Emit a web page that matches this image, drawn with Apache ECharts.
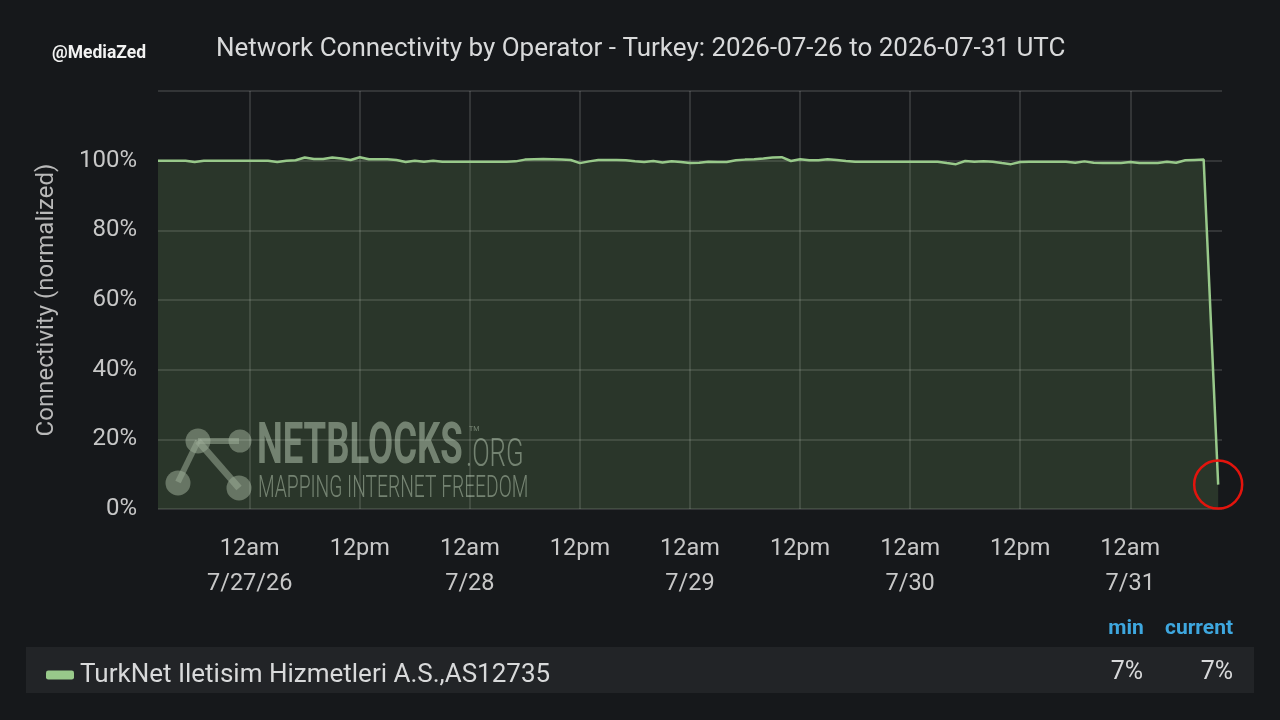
<!DOCTYPE html>
<html>
<head>
<meta charset="utf-8">
<script src="https://cdn.jsdelivr.net/npm/echarts@6/dist/echarts.min.js"></script>
<style>
html,body{margin:0;padding:0;background:#16181b;}
#chart{width:1280px;height:720px;}
</style>
</head>
<body>
<div id="chart"></div>
<script>
// ---------- data ----------
const chartTitle = 'Network Connectivity by Operator - Turkey: 2026-07-26 to 2026-07-31 UTC';
const credit = '@MediaZed';
const seriesName = 'TurkNet Iletisim Hizmetleri A.S.,AS12735';
const yAxisName = 'Connectivity (normalized)';

const axisStart = '2026-07-26 14:00';
const axisEnd = '2026-07-31 10:00';
const axisOrigin = '2026-07-27 00:00'; // first 12am tick

const times = [
  '2026-07-26 14:00','2026-07-26 15:00','2026-07-26 16:00','2026-07-26 17:00','2026-07-26 18:00',
  '2026-07-26 19:00','2026-07-26 20:00','2026-07-26 21:00','2026-07-26 22:00','2026-07-26 23:00',
  '2026-07-27 00:00','2026-07-27 01:00','2026-07-27 02:00','2026-07-27 03:00','2026-07-27 04:00','2026-07-27 05:00',
  '2026-07-27 06:00','2026-07-27 07:00','2026-07-27 08:00','2026-07-27 09:00','2026-07-27 10:00','2026-07-27 11:00',
  '2026-07-27 12:00','2026-07-27 13:00','2026-07-27 14:00','2026-07-27 15:00','2026-07-27 16:00','2026-07-27 17:00',
  '2026-07-27 18:00','2026-07-27 19:00','2026-07-27 20:00','2026-07-27 21:00','2026-07-27 22:00','2026-07-27 23:00',
  '2026-07-28 00:00','2026-07-28 01:00','2026-07-28 02:00','2026-07-28 03:00','2026-07-28 04:00','2026-07-28 05:00',
  '2026-07-28 06:00','2026-07-28 07:00','2026-07-28 08:00','2026-07-28 09:00','2026-07-28 10:00','2026-07-28 11:00',
  '2026-07-28 12:00','2026-07-28 13:00','2026-07-28 14:00','2026-07-28 15:00','2026-07-28 16:00','2026-07-28 17:00',
  '2026-07-28 18:00','2026-07-28 19:00','2026-07-28 20:00','2026-07-28 21:00','2026-07-28 22:00','2026-07-28 23:00',
  '2026-07-29 00:00','2026-07-29 01:00','2026-07-29 02:00','2026-07-29 03:00','2026-07-29 04:00','2026-07-29 05:00',
  '2026-07-29 06:00','2026-07-29 07:00','2026-07-29 08:00','2026-07-29 09:00','2026-07-29 10:00','2026-07-29 11:00',
  '2026-07-29 12:00','2026-07-29 13:00','2026-07-29 14:00','2026-07-29 15:00','2026-07-29 16:00','2026-07-29 17:00',
  '2026-07-29 18:00','2026-07-29 19:00','2026-07-29 20:00','2026-07-29 21:00','2026-07-29 22:00','2026-07-29 23:00',
  '2026-07-30 00:00','2026-07-30 01:00','2026-07-30 02:00','2026-07-30 03:00','2026-07-30 04:00','2026-07-30 05:00',
  '2026-07-30 06:00','2026-07-30 07:00','2026-07-30 08:00','2026-07-30 09:00','2026-07-30 10:00','2026-07-30 11:00',
  '2026-07-30 12:00','2026-07-30 13:00','2026-07-30 14:00','2026-07-30 15:00','2026-07-30 16:00','2026-07-30 17:00',
  '2026-07-30 18:00','2026-07-30 19:00','2026-07-30 20:00','2026-07-30 21:00','2026-07-30 22:00','2026-07-30 23:00',
  '2026-07-31 00:00','2026-07-31 01:00','2026-07-31 02:00','2026-07-31 03:00','2026-07-31 04:00','2026-07-31 05:00',
  '2026-07-31 06:00','2026-07-31 07:00','2026-07-31 08:00','2026-07-31 09:35'
];

const connectivity = [
  100, 100, 100, 100, 99.6, 100, 100, 100, 100, 100,
  100, 100, 100, 99.6, 100, 100.1, 100.9, 100.5, 100.5, 100.9, 100.6, 100.2,
  101, 100.4, 100.4, 100.4, 100.2, 99.6, 100, 99.7, 100, 99.7, 99.7, 99.7,
  99.7, 99.7, 99.7, 99.7, 99.7, 99.8, 100.3, 100.4, 100.5, 100.4, 100.3, 100.2,
  99.3, 99.8, 100.2, 100.2, 100.2, 100.1, 99.8, 99.6, 99.9, 99.5, 99.8, 99.6,
  99.3, 99.4, 99.7, 99.6, 99.6, 100.1, 100.3, 100.4, 100.6, 100.9, 101, 99.9,
  100.4, 100.1, 100.1, 100.4, 100.2, 99.9, 99.7, 99.7, 99.7, 99.7, 99.7, 99.7,
  99.7, 99.7, 99.7, 99.7, 99.3, 99.0, 99.9, 99.7, 99.8, 99.7, 99.3, 99.0,
  99.6, 99.7, 99.7, 99.7, 99.7, 99.7, 99.4, 99.8, 99.4, 99.3, 99.3, 99.3,
  99.6, 99.3, 99.3, 99.3, 99.7, 99.4, 100.1, 100.2, 100.3, 7
];

const xTickLabels = ['12am\n7/27/26','12pm','12am\n7/28','12pm','12am\n7/29','12pm','12am\n7/30','12pm','12am\n7/31'];
const yMax = 120;
const yStep = 20;

// ---------- helpers ----------
function parseUTC(s){
  const [d,t] = s.split(' ');
  const [Y,M,D] = d.split('-').map(Number);
  const [h,m] = t.split(':').map(Number);
  return Date.UTC(Y, M-1, D, h, m);
}
const HALF_DAY = 12*3600*1000;
const origin = parseUTC(axisOrigin);
const toHalfDays = s => (parseUTC(s) - origin) / HALF_DAY;

const seriesData = times.map((t,i) => [toHalfDays(t), connectivity[i]]);
const lastPoint = seriesData[seriesData.length-1];
const minVal = Math.min(...connectivity);
const curVal = connectivity[connectivity.length-1];

const textCol = '#d8d9da';
const axisCol = '#c7c7c7';
const gridCol = 'rgba(255,255,255,0.17)';
const lineCol = '#98c98a';
const wmText = 'rgba(190,198,188,0.55)';
const wmLogo = 'rgba(160,168,158,0.55)';
const FONT = 'Roboto';

const chart = echarts.init(document.getElementById('chart'), null, {renderer:'canvas'});

chart.setOption({
  backgroundColor: '#16181b',
  animation: false,
  textStyle: {fontFamily: FONT},
  title: [
    {text: chartTitle, left: 211, top: 31, textStyle:{color: textCol, fontSize: 26, fontWeight: 'normal', fontFamily: FONT}},
    {text: credit, left: 47, top: 40, textStyle:{color: '#f2f2f2', fontSize: 17.5, fontWeight: 'bold', fontFamily: FONT}}
  ],
  grid: {left: 158, right: 58, top: 91, bottom: 211, containLabel: false},
  legend: {
    left: 41, top: 657, icon: 'roundRect', itemWidth: 28, itemHeight: 9, selectedMode: false,
    data: [seriesName],
    textStyle: {color: textCol, fontSize: 26, fontFamily: FONT, padding:[0,0,0,1]}
  },
  xAxis: {
    type: 'value',
    min: toHalfDays(axisStart),
    max: toHalfDays(axisEnd),
    splitNumber: 10,
    axisLine: {show: false},
    axisTick: {show: false},
    splitLine: {show: true, showMinLine: false, showMaxLine: false, lineStyle: {color: gridCol, width: 1.5}},
    axisLabel: {
      color: axisCol, fontSize: 23.5, fontFamily: FONT, margin: 23, lineHeight: 35,
      showMinLabel: false, showMaxLabel: false,
      formatter: v => {
        const k = Math.round(v);
        if (Math.abs(v-k) > 1e-6 || k < 0 || k >= xTickLabels.length) return '';
        return xTickLabels[k];
      }
    }
  },
  yAxis: {
    type: 'value', min: 0, max: yMax, interval: yStep,
    name: yAxisName, nameLocation: 'middle', nameGap: 99, nameRotate: 90,
    nameTextStyle: {color: '#b9b9b9', fontSize: 24, fontFamily: FONT},
    axisLine: {show: false},
    axisTick: {show: false},
    splitLine: {show: true, lineStyle: {color: gridCol, width: 1.5}},
    axisLabel: {
      color: axisCol, fontSize: 24, fontFamily: FONT, margin: 21,
      formatter: v => v >= yMax ? '' : v + '%'
    }
  },
  series: [{
    name: seriesName,
    type: 'line',
    data: seriesData,
    showSymbol: false,
    symbol: 'none',
    smooth: false,
    lineStyle: {color: lineCol, width: 2.5},
    itemStyle: {color: lineCol},
    areaStyle: {color: 'rgba(126,178,109,0.28)'},
    markPoint: {
      silent: true,
      data: [{coord: lastPoint, symbol: 'circle', symbolSize: 48,
        itemStyle: {color: 'rgba(0,0,0,0)', borderColor: '#e3140d', borderWidth: 2.5},
        label: {show: false}}]
    },
    z: 3
  }],
  graphic: [
    // legend table box
    {type: 'rect', left: 26, top: 647, z: -1, shape: {width: 1228, height: 46}, style: {fill: '#222427'}},
    {type: 'text', x: 1126, y: 629, style: {text: 'min', fill: '#3ea7df', font: 'bold 21px ' + FONT, align: 'center', verticalAlign: 'middle'}},
    {type: 'text', x: 1199, y: 629, style: {text: 'current', fill: '#3ea7df', font: 'bold 21px ' + FONT, align: 'center', verticalAlign: 'middle'}},
    {type: 'text', x: 1127, y: 673, style: {text: Math.round(minVal) + '%', fill: textCol, font: '25px ' + FONT, align: 'center', verticalAlign: 'middle'}},
    {type: 'text', x: 1217, y: 673, style: {text: Math.round(curVal) + '%', fill: textCol, font: '25px ' + FONT, align: 'center', verticalAlign: 'middle'}},
    // NetBlocks watermark
    {type: 'group', z: 10, children: [
      {type: 'line', shape: {x1: 198, y1: 441, x2: 239, y2: 441}, style: {stroke: wmLogo, lineWidth: 6}},
      {type: 'line', shape: {x1: 198, y1: 441, x2: 239, y2: 488}, style: {stroke: wmLogo, lineWidth: 7}},
      {type: 'line', shape: {x1: 198, y1: 441, x2: 178, y2: 482}, style: {stroke: wmLogo, lineWidth: 6}},
      {type: 'circle', shape: {cx: 198, cy: 441, r: 12.5}, style: {fill: wmLogo}},
      {type: 'circle', shape: {cx: 240, cy: 441, r: 11.5}, style: {fill: wmLogo}},
      {type: 'circle', shape: {cx: 178, cy: 483, r: 12.5}, style: {fill: wmLogo}},
      {type: 'circle', shape: {cx: 239, cy: 488, r: 12.5}, style: {fill: wmLogo}},
      {type: 'text', x: 257, y: 449, scaleX: 0.64, style: {text: 'NETBLOCKS', fill: wmText, font: 'bold 57px ' + FONT, verticalAlign: 'middle'}},
      {type: 'text', x: 466, y: 456, scaleX: 0.66, style: {text: '.ORG', fill: wmText, font: '300 39px ' + FONT, verticalAlign: 'middle'}},
      {type: 'text', x: 469, y: 429, style: {text: 'TM', fill: wmText, font: '7px ' + FONT, verticalAlign: 'middle'}},
      {type: 'text', x: 258, y: 489, scaleX: 0.62, style: {text: 'MAPPING INTERNET FREEDOM', fill: wmText, font: '300 31px ' + FONT, verticalAlign: 'middle'}}
    ]}
  ]
});
</script>
</body>
</html>
